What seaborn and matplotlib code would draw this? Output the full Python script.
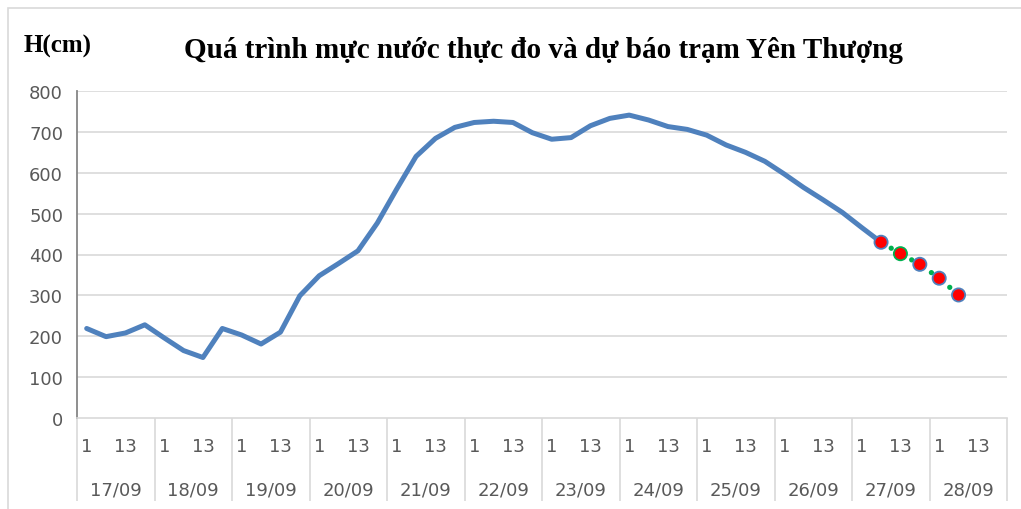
import numpy as np
import pandas as pd
import matplotlib.pyplot as plt
import matplotlib.transforms as mtransforms
from matplotlib.patches import Rectangle
import seaborn as sns

# Observation days and hours (4 readings per day)
days = ['17/09', '18/09', '19/09', '20/09', '21/09', '22/09',
        '23/09', '24/09', '25/09', '26/09', '27/09', '28/09']
hours = [1, 7, 13, 19]

# Observed water level (cm), 17/09 01h -> 27/09 07h
observed = [219, 199, 208, 228, 196, 165, 148, 219, 203, 181, 210, 299,
            348, 378, 409, 477, 560, 640, 684, 711, 723, 726, 723, 698,
            682, 686, 715, 733, 741, 729, 713, 706, 692, 668, 650, 628,
            597, 564, 534, 503, 466, 430]

# Forecast water level (cm), 27/09 07h -> 28/09 07h
forecast = [430, 402, 376, 342, 301]

n_slots = len(days) * len(hours)
obs_df = pd.DataFrame({'idx': np.arange(len(observed)), 'H': observed})
fc_start = len(observed) - 1
fc_df = pd.DataFrame({'idx': np.arange(fc_start, fc_start + len(forecast)), 'H': forecast})

sns.set_style('white')
fig = plt.figure(figsize=(10.21, 5.10), dpi=100)
ax = fig.add_axes([77 / 1021, 1 - 419 / 510, 930 / 1021, 327 / 510])

# Grid
for v in range(100, 900, 100):
    ax.axhline(v, color='#D9D9D9', lw=1.2, zorder=0)

sns.lineplot(data=obs_df, x='idx', y='H', ax=ax, color='#4F81BD', lw=3.6,
             solid_joinstyle='round', zorder=3)
sns.lineplot(data=fc_df, x='idx', y='H', ax=ax, color='#00B050', lw=3.8,
             linestyle=(0, (0.01, 2.22)), dash_capstyle='round', zorder=4)
sns.scatterplot(data=fc_df, x='idx', y='H', ax=ax, color='#FF0000', s=90,
                edgecolor=['#4F81BD', '#00B050', '#4F81BD', '#4F81BD', '#4F81BD'],
                linewidth=1.3, zorder=5)

ax.set_xlim(-0.5, n_slots - 0.5)
ax.set_ylim(0, 800)
ax.set_yticks(range(0, 900, 100))
ax.tick_params(axis='y', length=0, pad=10, labelsize=13, labelcolor='#595959')

# hour labels (every other reading, like Excel's label interval)
xt = [i for i in range(n_slots) if i % 2 == 0]
ax.set_xticks(xt)
ax.set_xticklabels([str(hours[i % 4]) for i in xt])
ax.tick_params(axis='x', length=0, pad=14, labelsize=13, labelcolor='#595959')
ax.set_xlabel('')
ax.set_ylabel('')

for s in ['top', 'right']:
    ax.spines[s].set_visible(False)
ax.spines['left'].set_color('#868686')
ax.spines['left'].set_linewidth(1.3)
ax.spines['bottom'].set_color('#D9D9D9')
ax.spines['bottom'].set_linewidth(1.2)

# day labels and separators below the axis
trans = mtransforms.blended_transform_factory(ax.transData, ax.transAxes)
for d, day in enumerate(days):
    ax.text(4 * d + 1.5, -0.219, day, transform=trans, ha='center', va='center',
            fontsize=13, color='#595959')
ax.vlines([4 * d - 0.5 for d in range(len(days) + 1)], -0.254, 0, transform=trans,
          color='#D9D9D9', lw=1.2, clip_on=False)

# titles
fig.text(543 / 1021, 1 - 50 / 510, 'Quá trình mực nước thực đo và dự báo trạm Yên Thượng',
         ha='center', va='center', fontsize=21, fontweight='bold',
         family='Liberation Serif', color='black')
fig.text(24 / 1021, 1 - 46 / 510, 'H(cm)', ha='left', va='center', fontsize=18,
         fontweight='bold', family='Liberation Serif', color='black')

# chart border
fig.patches.append(Rectangle((8 / 1021, -0.1), 1.2, 1 - 9 / 510 + 0.1,
                             transform=fig.transFigure, fill=False,
                             edgecolor='#D9D9D9', lw=1.2))

fig.savefig('out.png', dpi=100)
